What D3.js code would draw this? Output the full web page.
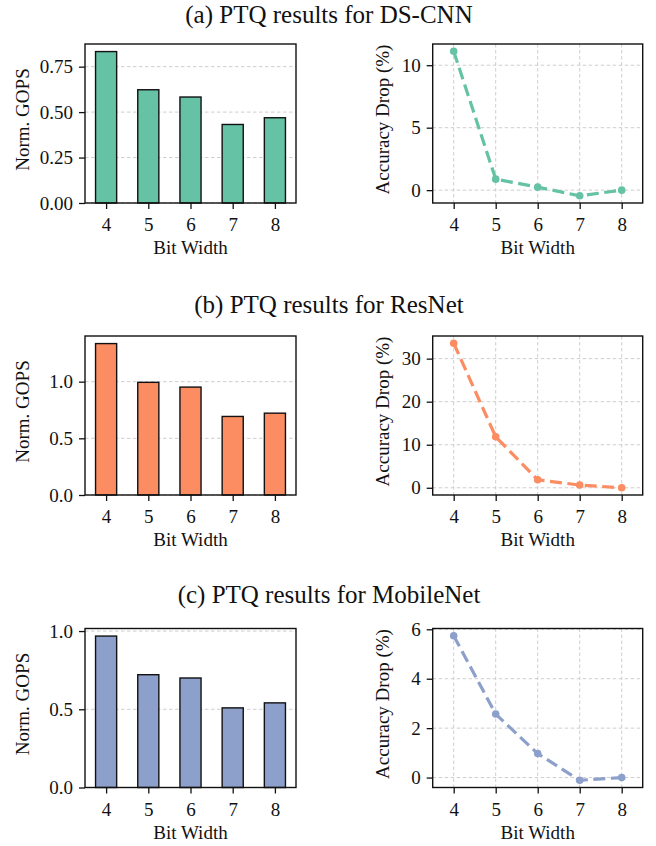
<!DOCTYPE html>
<html>
<head>
<meta charset="utf-8">
<script src="https://cdn.jsdelivr.net/npm/d3@7"></script>
<style>
  body { margin: 0; background: #fff; }
  svg text { font-family: "Liberation Serif", "Times New Roman", serif; fill: #111; }
</style>
</head>
<body>
<div class="canvas"></div>
<script>
// data
const bitWidths = [4, 5, 6, 7, 8];
const models = ['DS-CNN', 'ResNet', 'MobileNet'];
const panelTags = ['(a)', '(b)', '(c)'];

const gopsDsCnn = [0.833, 0.623, 0.583, 0.432, 0.469];
const gopsResNet = [1.336, 0.994, 0.952, 0.693, 0.722];
const gopsMobileNet = [0.968, 0.721, 0.700, 0.509, 0.541];

const dropDsCnn = [11.12, 0.88, 0.24, -0.45, 0.0];
const dropResNet = [33.58, 11.86, 1.86, 0.63, 0.0];
const dropMobileNet = [5.74, 2.57, 0.97, -0.11, 0.0];

const gopsTicks = [[0, 0.25, 0.5, 0.75], [0, 0.5, 1.0], [0, 0.5, 1.0]];
const dropTicks = [[0, 5, 10], [0, 10, 20, 30], [0, 2, 4, 6]];
const gopsFormat = ['.2f', '.1f', '.1f'];

const colors = ['#66c2a5', '#fc8d62', '#8da0cb'];

const gops = [gopsDsCnn, gopsResNet, gopsMobileNet];
const drops = [dropDsCnn, dropResNet, dropMobileNet];

// layout
const W = 656, H = 846;
const rowTop = [44, 336, 628.5];
const titleY = [22.5, 313, 603];
const plotH = 159;
const left = { x: 85, w: 211 };
const right = { x: 432.7, w: 210 };

const svg = d3.select('.canvas')
    .append('svg')
    .attr('width', W)
    .attr('height', H);

const tickFont = 19;

// draw axes frame, ticks, labels
const drawAxes = (g, x, y, yTicks, fmt, xGrid, yLabel, w) => {
    // grid
    g.append('g')
        .selectAll('line.gy')
        .data(yTicks)
        .enter()
        .append('line')
            .attr('x1', 0).attr('x2', w)
            .attr('y1', d => y(d)).attr('y2', d => y(d))
            .attr('stroke', '#c8c8c8')
            .attr('stroke-width', 0.9)
            .attr('stroke-dasharray', '3.5,2.5');
    if (xGrid) {
        g.append('g')
            .selectAll('line.gx')
            .data(bitWidths)
            .enter()
            .append('line')
                .attr('x1', d => x(d)).attr('x2', d => x(d))
                .attr('y1', 0).attr('y2', plotH)
                .attr('stroke', '#c8c8c8')
                .attr('stroke-width', 0.9)
                .attr('stroke-dasharray', '3.5,2.5');
    }

    const xAxis = g.append('g')
        .attr('class', 'xaxis')
        .attr('transform', `translate(0, ${plotH})`)
        .call(d3.axisBottom(x).tickValues(bitWidths).tickSize(6).tickPadding(9).tickFormat(d3.format('d')));
    const yAxis = g.append('g')
        .attr('class', 'yaxis')
        .call(d3.axisLeft(y).tickValues(yTicks).tickSize(6).tickPadding(6).tickFormat(d3.format(fmt)));

    [xAxis, yAxis].forEach(a => {
        a.select('.domain').remove();
        a.selectAll('line').attr('stroke', '#111').attr('stroke-width', 1.3);
        a.selectAll('text')
            .attr('font-size', tickFont)
            .attr('fill', '#111')
            .style('font-family', '"Liberation Serif", serif');
    });

    // labels
    g.append('text')
        .attr('x', w / 2)
        .attr('y', plotH + 51)
        .attr('text-anchor', 'middle')
        .attr('font-size', tickFont)
        .text('Bit Width');

    g.append('text')
        .attr('transform', `translate(${yLabel.x}, ${plotH / 2 - 4}) rotate(-90)`)
        .attr('text-anchor', 'middle')
        .attr('font-size', tickFont)
        .text(yLabel.text);
};

const frame = (g, w) => {
    g.append('rect')
        .attr('x', 0).attr('y', 0)
        .attr('width', w).attr('height', plotH)
        .attr('fill', 'none')
        .attr('stroke', '#111')
        .attr('stroke-width', 1.4);
};

models.forEach((model, i) => {

    svg.append('text')
        .attr('x', 329)
        .attr('y', titleY[i])
        .attr('text-anchor', 'middle')
        .attr('font-size', 25)
        .text(`${panelTags[i]} PTQ results for ${model}`);

    // bar chart
    const gb = svg.append('g')
        .attr('transform', `translate(${left.x}, ${rowTop[i]})`);

    const xb = d3.scaleLinear().domain([3.5, 8.5]).range([0, left.w]);
    const yb = d3.scaleLinear()
        .domain([0, d3.max(gops[i]) * 1.05])
        .range([plotH, 0]);

    drawAxes(gb, xb, yb, gopsTicks[i], gopsFormat[i], false,
        { x: -56, text: 'Norm. GOPS' }, left.w);

    const barW = xb(4.25) - xb(3.75);
    gb.append('g')
        .selectAll('rect')
        .data(bitWidths.map((b, j) => ({ bit: b, v: gops[i][j] })))
        .enter()
        .append('rect')
            .attr('x', d => xb(d.bit) - barW / 2)
            .attr('y', d => yb(d.v))
            .attr('width', barW)
            .attr('height', d => yb(0) - yb(d.v))
            .attr('fill', colors[i])
            .attr('stroke', '#111')
            .attr('stroke-width', 1.4);

    frame(gb, left.w);

    // line chart
    const gl = svg.append('g')
        .attr('transform', `translate(${right.x}, ${rowTop[i]})`);

    const xl = d3.scaleLinear().domain([3.5, 8.5]).range([0, right.w]);
    const ext = d3.extent(drops[i]);
    const pad = (ext[1] - ext[0]) * 0.05;
    const yl = d3.scaleLinear()
        .domain([ext[0] - pad, ext[1] + pad])
        .range([plotH, 0]);

    drawAxes(gl, xl, yl, dropTicks[i], 'd', true,
        { x: -44, text: 'Accuracy Drop (%)' }, right.w);

    const pts = bitWidths.map((b, j) => ({ bit: b, v: drops[i][j] }));

    const line = d3.line()
        .x(d => xl(d.bit))
        .y(d => yl(d.v));

    gl.append('path')
        .datum(pts)
        .attr('d', line)
        .attr('fill', 'none')
        .attr('stroke', colors[i])
        .attr('stroke-width', 3.2)
        .attr('stroke-dasharray', '12,5.5');

    gl.append('g')
        .selectAll('circle')
        .data(pts)
        .enter()
        .append('circle')
            .attr('cx', d => xl(d.bit))
            .attr('cy', d => yl(d.v))
            .attr('r', 3.8)
            .attr('fill', colors[i]);

    frame(gl, right.w);
});
</script>
</body>
</html>
